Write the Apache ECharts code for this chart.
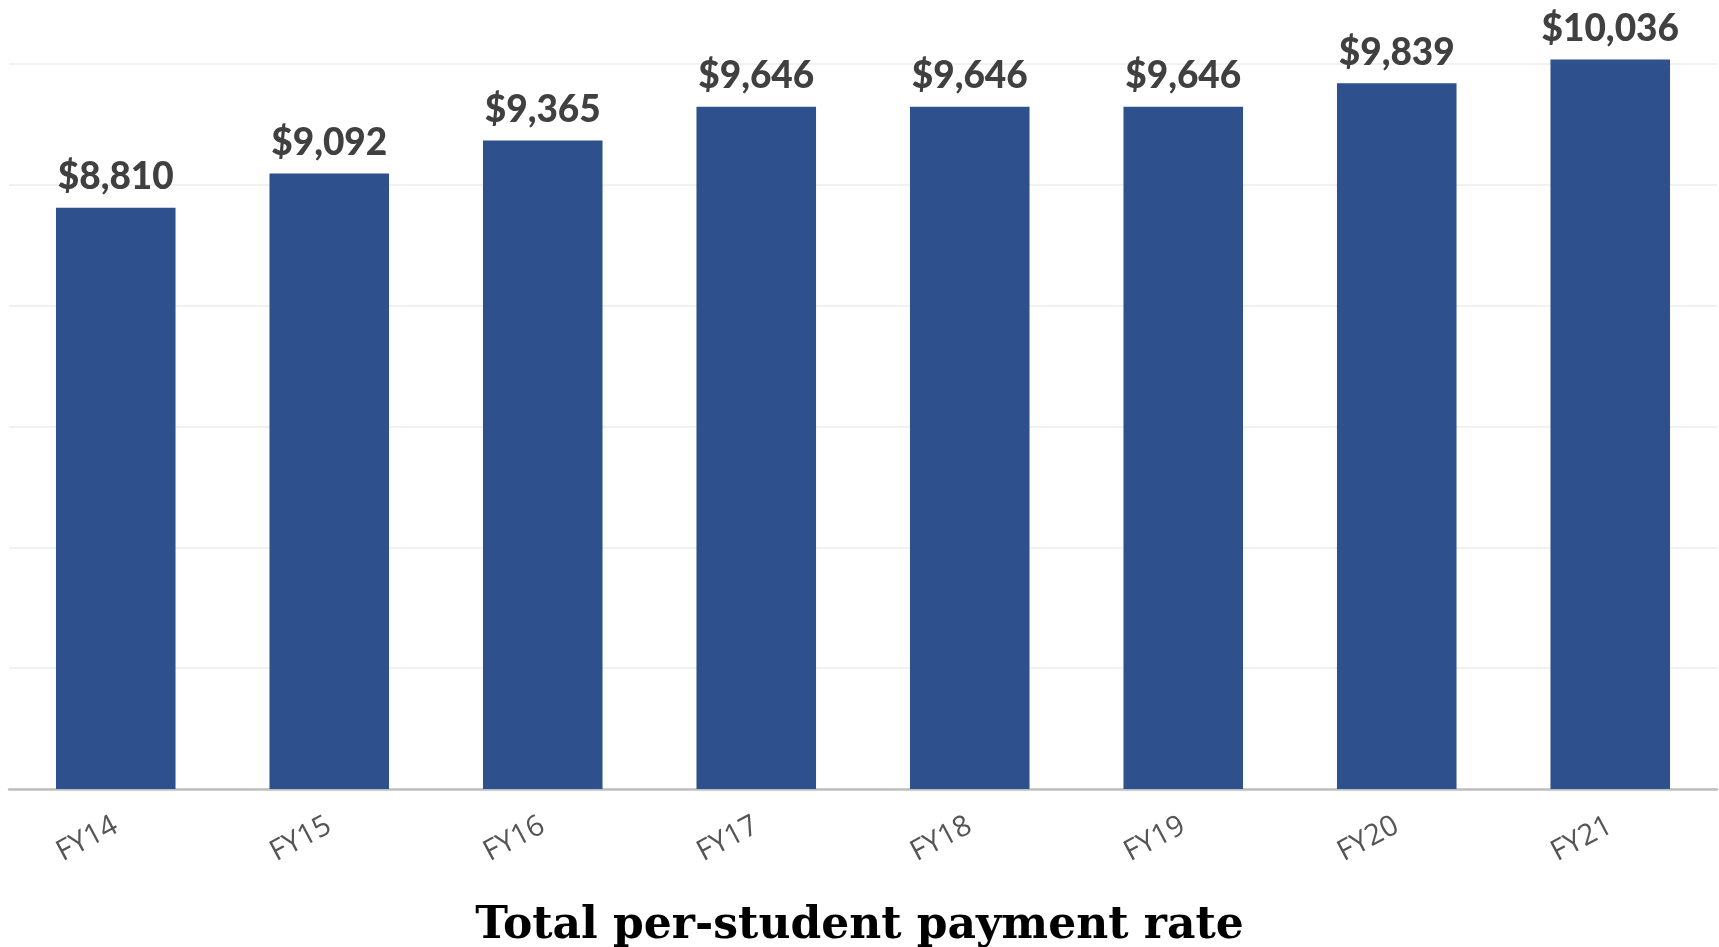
<!DOCTYPE html>
<html>
<head>
<meta charset="utf-8">
<script src="https://cdn.jsdelivr.net/npm/echarts@6/dist/echarts.min.js"></script>
<style>
html,body{margin:0;padding:0;background:#fff;}
#chart{width:1719px;height:947px;}
</style>
</head>
<body>
<div id="chart"></div>
<script>
const categories = ['FY14','FY15','FY16','FY17','FY18','FY19','FY20','FY21'];
const values = [8810, 9092, 9365, 9646, 9646, 9646, 9839, 10036];
const titleText = 'Total per-student payment rate';

const chart = echarts.init(document.getElementById('chart'));
chart.setOption({
  animation: false,
  backgroundColor: '#ffffff',
  title: {
    text: titleText,
    left: 'center',
    bottom: -7,
    textStyle: {fontFamily: 'DejaVu Serif', fontWeight: 'bold', fontSize: 44, color: '#000000'}
  },
  grid: {left: 9, right: 2, top: -57, bottom: 158, containLabel: false, outerBoundsMode: 'none'},
  xAxis: {
    type: 'category',
    data: categories,
    axisLine: {lineStyle: {color: '#bfbfbf', width: 2.5}},
    axisTick: {show: false},
    axisLabel: {rotate: 28, margin: 35, color: '#555555', fontFamily: 'Open Sans', fontSize: 29}
  },
  yAxis: {
    type: 'value',
    min: 4000,
    max: 11000,
    interval: 1000,
    axisLabel: {show: false},
    axisLine: {show: false},
    axisTick: {show: false},
    splitLine: {lineStyle: {color: '#ececec', width: 1.5}}
  },
  series: [{
    type: 'bar',
    data: values,
    barCategoryGap: '44%',
    itemStyle: {color: '#2e508c'},
    label: {
      show: true,
      position: 'top',
      distance: 12,
      formatter: p => '$' + p.value.toLocaleString('en-US'),
      fontFamily: 'Lato',
      fontWeight: 900,
      fontSize: 37,
      color: '#404040'
    }
  }]
});
</script>
</body>
</html>
